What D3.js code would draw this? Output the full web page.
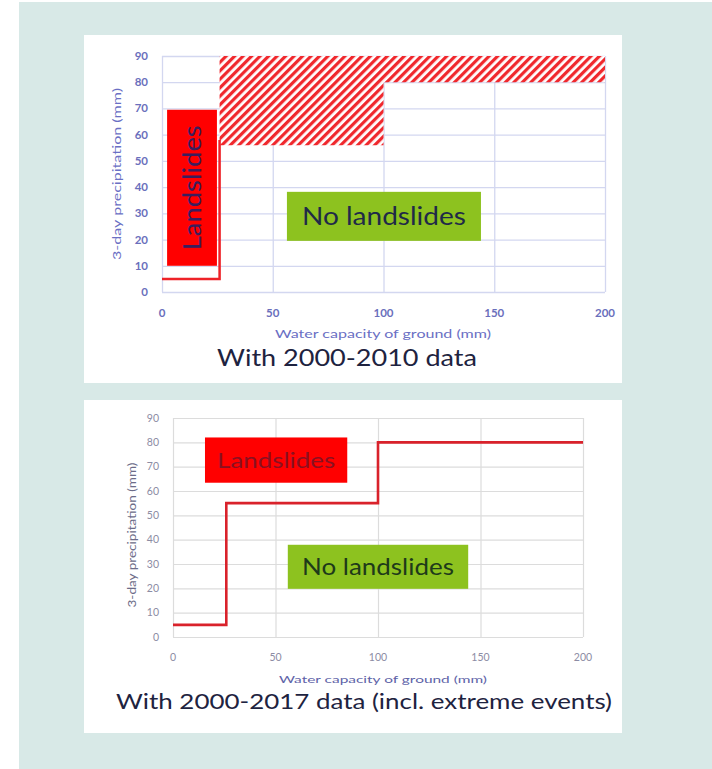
<!DOCTYPE html>
<html><head><meta charset="utf-8">
<script src="https://cdn.jsdelivr.net/npm/d3@7"></script>
<style>html,body{margin:0;padding:0;background:#fff;}svg{display:block;}</style>
</head><body>
<svg id="c" width="712" height="769"></svg>
<script>
// ---- data ----
const xTicks = [0, 50, 100, 150, 200];
const yTicks = [0, 10, 20, 30, 40, 50, 60, 70, 80, 90];
const xTitle = "Water capacity of ground (mm)";
const yTitle = "3-day precipitation (mm)";
const caption2010 = "With 2000-2010 data";
const caption2017 = "With 2000-2017 data (incl. extreme events)";
// threshold step lines [capacity, precipitation]
const step2010 = [[0, 5], [26, 5], [26, 58]];
const step2017 = [[0, 5], [26, 5], [26, 55], [100, 55], [100, 80], [200, 80]];
// hatched "landslides" zone (2000-2010)
const hatch2010 = [[26, 56], [100, 56], [100, 80], [200, 80], [200, 90], [26, 90]];
// label boxes [x0, x1, y0, y1] in data units
const slideBox2010 = [2.3, 24.8, 10, 69.5];
const noSlideBox2010 = [56.4, 144, 19.5, 38.2];
const slideBox2017 = [15.6, 85, 63.4, 82];
const noSlideBox2017 = [56, 144, 19.8, 37.9];
const labelSlides = "Landslides";
const labelNoSlides = "No landslides";

const svg = d3.select("#c");
svg.append("rect").attr("x", 19).attr("y", 2).attr("width", 693).attr("height", 767).attr("fill", "#d8e9e7");
svg.append("rect").attr("x", 84).attr("y", 35).attr("width", 538).attr("height", 348).attr("fill", "#fff");
svg.append("rect").attr("x", 84).attr("y", 400).attr("width", 538).attr("height", 333).attr("fill", "#fff");

const defs = svg.append("defs");
const pat = defs.append("pattern").attr("id", "hatch").attr("patternUnits", "userSpaceOnUse")
  .attr("width", 6).attr("height", 6).attr("patternTransform", "rotate(45)");
pat.append("rect").attr("width", 6).attr("height", 6).attr("fill", "#fff");
pat.append("rect").attr("width", 3.2).attr("height", 6).attr("fill", "#f0282d");

const FONT = "Lato, 'Open Sans', sans-serif";
function txt(g, s, size, fill, len) {
  const t = g.append("text").attr("font-family", FONT).attr("font-size", size).attr("fill", fill)
    .attr("text-anchor", "middle").text(s);
  if (len) t.attr("textLength", len).attr("lengthAdjust", "spacingAndGlyphs");
  return t;
}

// ---------- chart 1 ----------
(function () {
  const x = d3.scaleLinear().domain([0, 200]).range([162, 605]);
  const y = d3.scaleLinear().domain([0, 90]).range([292, 56]);
  const g = svg.append("g");
  const tickCol = "#6a6fbc";
  g.append("g").attr("transform", `translate(${x(0)},0)`)
    .call(d3.axisLeft(y).tickValues(yTicks).tickSize(-(x(200) - x(0))).tickFormat(""))
    .call(s => s.select(".domain").remove())
    .call(s => s.selectAll("line").attr("stroke", "#d3d7f0").attr("stroke-width", 1.3));
  g.append("g").attr("transform", `translate(0,${y(0)})`)
    .call(d3.axisBottom(x).tickValues(xTicks).tickSize(-(y(0) - y(90))).tickFormat(""))
    .call(s => s.select(".domain").remove())
    .call(s => s.selectAll("line").attr("stroke", "#d3d7f0").attr("stroke-width", 1.3));
  g.selectAll(".yl").data(yTicks).join("text").attr("x", 148).attr("y", d => y(d) + 4)
    .attr("text-anchor", "end").attr("font-family", FONT).attr("font-size", 11.5).attr("font-weight", 700)
    .attr("fill", tickCol).text(d => d);
  g.selectAll(".xl").data(xTicks).join("text").attr("x", d => x(d)).attr("y", 317)
    .attr("text-anchor", "middle").attr("font-family", FONT).attr("font-size", 11.5).attr("font-weight", 700)
    .attr("fill", tickCol).text(d => d);
  txt(g, xTitle, 12, "#6a6fc4", 216).attr("x", 383).attr("y", 338);
  txt(g, yTitle, 12, "#6a6fc4", 172).attr("transform", `translate(121,174) rotate(-90)`);
  g.append("path").datum(hatch2010)
    .attr("d", d3.line().x(d => x(d[0])).y(d => y(d[1])).curve(d3.curveLinearClosed))
    .attr("fill", "url(#hatch)");
  g.append("path").datum(step2010)
    .attr("d", d3.line().x(d => x(d[0])).y(d => y(d[1])))
    .attr("fill", "none").attr("stroke", "#ee2228").attr("stroke-width", 2.5);
  const b1 = slideBox2010;
  g.append("rect").attr("x", x(b1[0])).attr("y", y(b1[3])).attr("width", x(b1[1]) - x(b1[0]))
    .attr("height", y(b1[2]) - y(b1[3])).attr("fill", "#ff0000");
  txt(g, labelSlides, 25, "#3a1e5e", 125)
    .attr("transform", `translate(${(x(b1[0]) + x(b1[1])) / 2 + 9},${(y(b1[2]) + y(b1[3])) / 2}) rotate(-90)`);
  const b2 = noSlideBox2010;
  g.append("rect").attr("x", x(b2[0])).attr("y", y(b2[3])).attr("width", x(b2[1]) - x(b2[0]))
    .attr("height", y(b2[2]) - y(b2[3])).attr("fill", "#8dc21f");
  txt(g, labelNoSlides, 25, "#1f2a48", 164).attr("x", (x(b2[0]) + x(b2[1])) / 2).attr("y", (y(b2[2]) + y(b2[3])) / 2 + 9);
  txt(g, caption2010, 23, "#1e2340", 260).attr("x", 347).attr("y", 366);
})();

// ---------- chart 2 ----------
(function () {
  const x = d3.scaleLinear().domain([0, 200]).range([173, 583]);
  const y = d3.scaleLinear().domain([0, 90]).range([637, 418]);
  const g = svg.append("g");
  const tickCol = "#8c8ca4";
  g.append("g").attr("transform", `translate(${x(0)},0)`)
    .call(d3.axisLeft(y).tickValues(yTicks).tickSize(-(x(200) - x(0))).tickFormat(""))
    .call(s => s.select(".domain").remove())
    .call(s => s.selectAll("line").attr("stroke", "#dcdcdc").attr("stroke-width", 1.2));
  g.append("g").attr("transform", `translate(0,${y(0)})`)
    .call(d3.axisBottom(x).tickValues(xTicks).tickSize(-(y(0) - y(90))).tickFormat(""))
    .call(s => s.select(".domain").remove())
    .call(s => s.selectAll("line").attr("stroke", "#dcdcdc").attr("stroke-width", 1.2));
  g.selectAll(".yl").data(yTicks).join("text").attr("x", 159).attr("y", d => y(d) + 3.5)
    .attr("text-anchor", "end").attr("font-family", FONT).attr("font-size", 10.5)
    .attr("fill", tickCol).text(d => d);
  g.selectAll(".xl").data(xTicks).join("text").attr("x", d => x(d)).attr("y", 661)
    .attr("text-anchor", "middle").attr("font-family", FONT).attr("font-size", 10.5)
    .attr("fill", tickCol).text(d => d);
  txt(g, xTitle, 10, "#5e63a8", 208).attr("x", 383).attr("y", 683);
  txt(g, yTitle, 10.5, "#6c6c88", 145).attr("transform", `translate(136,535) rotate(-90)`);
  g.append("path").datum(step2017)
    .attr("d", d3.line().x(d => x(d[0])).y(d => y(d[1])))
    .attr("fill", "none").attr("stroke", "#d9222b").attr("stroke-width", 2.6);
  const b1 = slideBox2017;
  g.append("rect").attr("x", x(b1[0])).attr("y", y(b1[3])).attr("width", x(b1[1]) - x(b1[0]))
    .attr("height", y(b1[2]) - y(b1[3])).attr("fill", "#ff0000");
  txt(g, labelSlides, 21, "#8a1020", 118).attr("x", (x(b1[0]) + x(b1[1])) / 2).attr("y", (y(b1[2]) + y(b1[3])) / 2 + 8);
  const b2 = noSlideBox2017;
  g.append("rect").attr("x", x(b2[0])).attr("y", y(b2[3])).attr("width", x(b2[1]) - x(b2[0]))
    .attr("height", y(b2[2]) - y(b2[3])).attr("fill", "#8dc21f");
  txt(g, labelNoSlides, 23, "#1e3a1a", 152).attr("x", (x(b2[0]) + x(b2[1])) / 2).attr("y", (y(b2[2]) + y(b2[3])) / 2 + 8);
  txt(g, caption2017, 22, "#1e2340", 496).attr("x", 364).attr("y", 709);
})();
</script>
</body></html>
